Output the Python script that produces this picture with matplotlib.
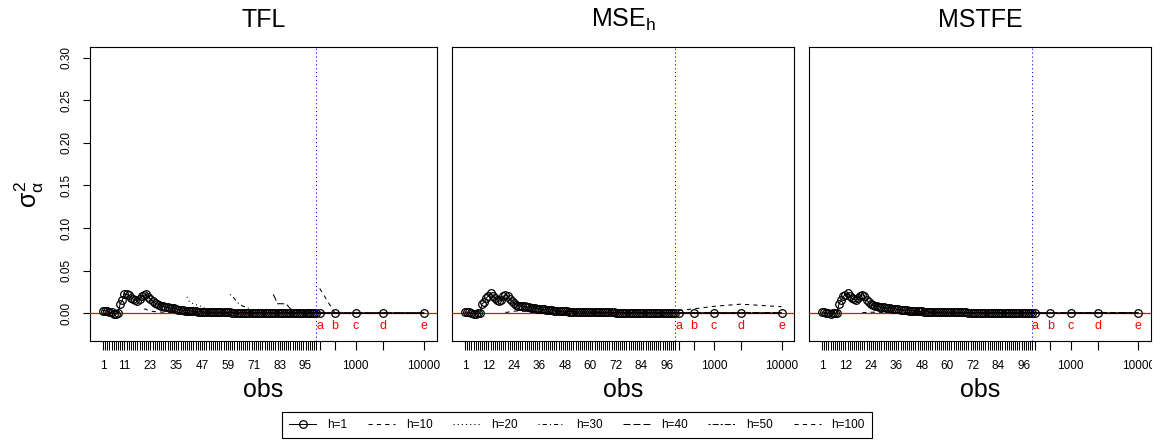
import numpy as np
import matplotlib
matplotlib.use("Agg")
import matplotlib.pyplot as plt
from matplotlib.lines import Line2D
from matplotlib.transforms import Bbox, TransformedBbox

plt.rcParams['font.family'] = ['Liberation Sans', 'DejaVu Sans']
plt.rcParams['mathtext.fontset'] = 'custom'
plt.rcParams['mathtext.rm'] = 'Liberation Sans'
plt.rcParams['mathtext.it'] = 'Liberation Sans'
plt.rcParams['mathtext.bf'] = 'Liberation Sans:bold'
plt.rcParams['lines.scale_dashes'] = False

# ---------------- data ----------------
obs = list(range(1, 101))
ext_obs = [300, 500, 1000, 2500, 10000]
ext_letters = ['a', 'b', 'c', 'd', 'e']
ext_ticklabels = ['', '', '1000', '', '10000']
panel_titles = ['TFL', 'MSE$_h$', 'MSTFE']
tfl_xticks = [1, 11, 23, 35, 47, 59, 71, 83, 95]
other_xticks = [1, 12, 24, 36, 48, 60, 72, 84, 96]
y_ticks = [0.00, 0.05, 0.10, 0.15, 0.20, 0.25, 0.30]
y_ticklabels = ['0.00', '0.05', '0.10', '0.15', '0.20', '0.25', '0.30']
legend_labels = ['h=1', 'h=10', 'h=20', 'h=30', 'h=40', 'h=50', 'h=100']

# TFL panel
tfl_h1 = [0.003, 0.003, 0.0025, 0.001, 0.001, -0.0005, -0.0005, 0.0, 0.011, 0.015,
          0.023, 0.022, 0.021, 0.018, 0.0165, 0.0155, 0.014, 0.017, 0.020, 0.021,
          0.022, 0.019, 0.016, 0.014, 0.012, 0.011, 0.010, 0.0087, 0.008, 0.0075,
          0.007, 0.0063, 0.006, 0.0055, 0.0047, 0.004, 0.0037, 0.0035, 0.003, 0.003,
          0.0027, 0.0025, 0.0022, 0.002, 0.0018, 0.0016, 0.0015, 0.0014, 0.0013, 0.0012,
          0.0011, 0.0011, 0.001, 0.001, 0.0009, 0.0009, 0.0009, 0.0008, 0.0008, 0.0008,
          0.0007, 0.0007, 0.0007, 0.0007, 0.0007, 0.0006, 0.0006, 0.0006, 0.0006, 0.0006,
          0.0006, 0.0006, 0.0005, 0.0005, 0.0005, 0.0005, 0.0005, 0.0005, 0.0005, 0.0005,
          0.0005, 0.0004, 0.0004, 0.0004, 0.0004, 0.0004, 0.0004, 0.0004, 0.0004, 0.0004,
          0.0004, 0.0003, 0.0003, 0.0003, 0.0003, 0.0003, 0.0003, 0.0003, 0.0003, 0.0003]
tfl_h1_ext = [0.0, 0.0, 0.0, 0.0, 0.0]
tfl_h10_obs = [20, 21, 22, 24, 26, 30, 40, 60, 80, 100]
tfl_h10 = [0.0047, 0.0047, 0.003, 0.002, 0.0015, 0.001, 0.0006, 0.0004, 0.0003, 0.0002]
tfl_h10_ext = [0.0, 0.0, 0.0, 0.0, 0.0]
tfl_h20_obs = [40, 41, 42, 44, 46, 48, 50, 55, 60, 80, 100]
tfl_h20 = [0.019, 0.014, 0.012, 0.010, 0.0085, 0.006, 0.004, 0.002, 0.001, 0.0005, 0.0003]
tfl_h20_ext = [0.0, 0.0, 0.0, 0.0, 0.0]
tfl_h30_obs = [60, 61, 62, 64, 66, 67, 70, 75, 80, 100]
tfl_h30 = [0.022, 0.020, 0.017, 0.011, 0.008, 0.0075, 0.004, 0.002, 0.001, 0.0005]
tfl_h30_ext = [0.0, 0.0, 0.0, 0.0, 0.0]
tfl_h40_obs = [80, 81, 82, 84, 86, 87, 88, 90, 95, 100]
tfl_h40 = [0.022, 0.017, 0.011, 0.011, 0.0108, 0.008, 0.005, 0.003, 0.0015, 0.001]
tfl_h40_ext = [0.0, 0.0, 0.0, 0.0, 0.0]
tfl_h50_obs = [100]
tfl_h50 = [0.002]
tfl_h50_ext = [0.001, 0.0, 0.0, 0.0, 0.0]
tfl_h100_ext = [0.029, 0.0, 0.0, 0.0, 0.0]

# MSE_h panel
mse_h1 = [0.001, 0.001, 0.0008, 0.0, -0.0005, -0.0005, 0.0, 0.0, 0.011, 0.0125,
          0.0177, 0.020, 0.024, 0.0197, 0.0177, 0.0157, 0.0137, 0.0157, 0.0197, 0.0216,
          0.020, 0.0165, 0.0137, 0.0118, 0.0098, 0.0087, 0.0082, 0.008, 0.0079, 0.0075,
          0.007, 0.0065, 0.006, 0.0055, 0.0052, 0.005, 0.0047, 0.0044, 0.0042, 0.004,
          0.0036, 0.0033, 0.003, 0.0028, 0.0026, 0.0024, 0.0022, 0.002, 0.0019, 0.0018,
          0.0017, 0.0016, 0.0015, 0.0014, 0.0014, 0.0013, 0.0013, 0.0012, 0.0012, 0.0012,
          0.0011, 0.0011, 0.001, 0.001, 0.001, 0.0009, 0.0009, 0.0009, 0.0008, 0.0008,
          0.0008, 0.0007, 0.0007, 0.0007, 0.0007, 0.0006, 0.0006, 0.0006, 0.0006, 0.0006,
          0.0005, 0.0005, 0.0005, 0.0005, 0.0005, 0.0005, 0.0005, 0.0004, 0.0004, 0.0004,
          0.0004, 0.0004, 0.0004, 0.0004, 0.0004, 0.0003, 0.0003, 0.0003, 0.0003, 0.0003]
mse_h1_ext = [0.0, 0.0, 0.0, 0.0, 0.0]
mse_h10_obs = [20, 21, 22, 23, 25, 30, 40, 60, 80, 100]
mse_h10 = [0.0008, 0.001, 0.0015, 0.002, 0.0025, 0.002, 0.001, 0.0005, 0.0003, 0.0002]
mse_h10_ext = [0.0001, 0.0001, 0.0001, 0.0001, 0.0001]
mse_h20_obs = [40, 45, 50, 60, 80, 100]
mse_h20 = [0.002, 0.0015, 0.001, 0.0006, 0.0004, 0.0003]
mse_h20_ext = [0.0002, 0.0002, 0.0002, 0.0002, 0.0002]
mse_h30_obs = [60, 65, 70, 80, 100]
mse_h30 = [0.0015, 0.001, 0.0008, 0.0005, 0.0003]
mse_h30_ext = [0.0002, 0.0002, 0.0002, 0.0002, 0.0002]
mse_h40_obs = [80, 85, 90, 100]
mse_h40 = [0.0012, 0.0008, 0.0005, 0.0003]
mse_h40_ext = [0.0002, 0.0002, 0.0002, 0.0002, 0.0002]
mse_h50_obs = [100]
mse_h50 = [0.0005]
mse_h50_ext = [0.0003, 0.0002, 0.0002, 0.0002, 0.0002]
mse_h100_ext = [0.003, 0.005, 0.008, 0.0105, 0.0075]

# MSTFE panel
mstfe_h1 = [0.001, 0.001, 0.0, 0.0, -0.0005, 0.0, 0.0, 0.0, 0.011, 0.015,
            0.0197, 0.0216, 0.024, 0.0197, 0.0177, 0.0165, 0.015, 0.0177, 0.020, 0.0216,
            0.0197, 0.0157, 0.0126, 0.011, 0.0095, 0.0085, 0.0079, 0.0075, 0.007, 0.0068,
            0.0063, 0.006, 0.0056, 0.0053, 0.005, 0.0047, 0.0044, 0.0041, 0.0038, 0.0035,
            0.0032, 0.003, 0.0028, 0.0026, 0.0024, 0.0022, 0.002, 0.0019, 0.0018, 0.0017,
            0.0016, 0.0015, 0.0014, 0.0014, 0.0013, 0.0013, 0.0012, 0.0012, 0.0011, 0.0011,
            0.001, 0.001, 0.001, 0.0009, 0.0009, 0.0009, 0.0008, 0.0008, 0.0008, 0.0007,
            0.0007, 0.0007, 0.0007, 0.0006, 0.0006, 0.0006, 0.0006, 0.0006, 0.0005, 0.0005,
            0.0005, 0.0005, 0.0005, 0.0005, 0.0005, 0.0004, 0.0004, 0.0004, 0.0004, 0.0004,
            0.0004, 0.0004, 0.0004, 0.0003, 0.0003, 0.0003, 0.0003, 0.0003, 0.0003, 0.0003]
mstfe_h1_ext = [0.0, 0.0, 0.0, 0.0, 0.0]
mstfe_h10_obs = [20, 22, 24, 26, 30, 40, 60, 80, 100]
mstfe_h10 = [0.0005, 0.0008, 0.001, 0.001, 0.0008, 0.0005, 0.0003, 0.0002, 0.0002]
mstfe_h10_ext = [0.0001, 0.0001, 0.0001, 0.0001, 0.0001]
mstfe_h20_obs = [40, 50, 60, 80, 100]
mstfe_h20 = [0.0012, 0.0008, 0.0005, 0.0003, 0.0002]
mstfe_h20_ext = [0.0001, 0.0001, 0.0001, 0.0001, 0.0001]
mstfe_h30_obs = [60, 70, 80, 100]
mstfe_h30 = [0.001, 0.0006, 0.0004, 0.0002]
mstfe_h30_ext = [0.0001, 0.0001, 0.0001, 0.0001, 0.0001]
mstfe_h40_obs = [80, 90, 100]
mstfe_h40 = [0.0008, 0.0005, 0.0003]
mstfe_h40_ext = [0.0001, 0.0001, 0.0001, 0.0001, 0.0001]
mstfe_h50_obs = [100]
mstfe_h50 = [0.0004]
mstfe_h50_ext = [0.0002, 0.0001, 0.0001, 0.0001, 0.0001]
mstfe_h100_ext = [0.0, 0.0002, 0.0004, 0.0008, 0.0005]

# ---------------- scale (index-like up to 100, log beyond) ----------------
LOG_OFF, LOG_K = 118.2, 31.8
P300 = LOG_OFF + LOG_K * (np.log10(300.0) - 3)


def fwd(x):
    x = np.asarray(x, dtype=float)
    lg = LOG_OFF + LOG_K * (np.log10(np.maximum(x, 300.0)) - 3)
    mid = 100 + (x - 100) * (P300 - 100) / 200.0
    return np.where(x <= 100, x, np.where(x < 300, mid, lg))


def inv(p):
    p = np.asarray(p, dtype=float)
    lg = 10 ** ((np.maximum(p, P300) - LOG_OFF) / LOG_K + 3)
    mid = 100 + (p - 100) * 200.0 / (P300 - 100)
    return np.where(p <= 100, p, np.where(p < P300, mid, lg))


# ---------------- styles ----------------
styles = [
    dict(ls='-', marker='o'),
    dict(ls=(0, (3.0, 3.0))),
    dict(ls=(0, (0.8, 2.2))),
    dict(ls=(0, (0.8, 2.2, 3.0, 2.2))),
    dict(ls=(0, (5.0, 2.2))),
    dict(ls=(0, (1.5, 1.5, 4.3, 1.5))),
    dict(ls=(0, (3.0, 3.0))),
]

panels = [
    dict(h1=tfl_h1, h1e=tfl_h1_ext,
         others=[(tfl_h10_obs, tfl_h10, tfl_h10_ext), (tfl_h20_obs, tfl_h20, tfl_h20_ext),
                 (tfl_h30_obs, tfl_h30, tfl_h30_ext), (tfl_h40_obs, tfl_h40, tfl_h40_ext),
                 (tfl_h50_obs, tfl_h50, tfl_h50_ext), ([], [], tfl_h100_ext)],
         xticks=tfl_xticks),
    dict(h1=mse_h1, h1e=mse_h1_ext,
         others=[(mse_h10_obs, mse_h10, mse_h10_ext), (mse_h20_obs, mse_h20, mse_h20_ext),
                 (mse_h30_obs, mse_h30, mse_h30_ext), (mse_h40_obs, mse_h40, mse_h40_ext),
                 (mse_h50_obs, mse_h50, mse_h50_ext), ([], [], mse_h100_ext)],
         xticks=other_xticks),
    dict(h1=mstfe_h1, h1e=mstfe_h1_ext,
         others=[(mstfe_h10_obs, mstfe_h10, mstfe_h10_ext), (mstfe_h20_obs, mstfe_h20, mstfe_h20_ext),
                 (mstfe_h30_obs, mstfe_h30, mstfe_h30_ext), (mstfe_h40_obs, mstfe_h40, mstfe_h40_ext),
                 (mstfe_h50_obs, mstfe_h50, mstfe_h50_ext), ([], [], mstfe_h100_ext)],
         xticks=other_xticks),
]

W, H = 1167, 443
fig = plt.figure(figsize=(W / 100, H / 100), dpi=100)
boxes_px = [(90, 437), (452.3, 794.3), (809.3, 1151)]
top_px, bot_px = 47, 341

LW = 0.75
MS, MEW = 5.5, 0.9
axes = []
for i, (pan, (x0, x1)) in enumerate(zip(panels, boxes_px)):
    ax = fig.add_axes([x0 / W, (H - bot_px) / H, (x1 - x0) / W, (bot_px - top_px) / H])
    axes.append(ax)
    ax.set_xscale('function', functions=(fwd, inv))

    # h=1
    ax.plot(obs + ext_obs, pan['h1'] + pan['h1e'], color='black', lw=LW, ls='-',
            marker='o', ms=MS, mfc='none', mec='black', mew=MEW, zorder=5)
    for st, (ob, vals, ev) in zip(styles[1:], pan['others']):
        ax.plot(list(ob) + ext_obs, list(vals) + ev, color='black', lw=LW, ls=st['ls'], zorder=4)

    ax.axhline(0, color='red', lw=0.9, zorder=3)
    ax.axvline(100, color='blue', lw=0.75, ls=(0, (0.8, 2.0)), zorder=6)
    for xo, let in zip(ext_obs, ext_letters):
        ax.annotate(let, (xo, 0), xytext=(0, -9.2), textcoords='offset points',
                    ha='center', va='center', color='red', fontsize=9)

    ax.set_xlim(float(inv(-5.0)), float(inv(156.0)))
    ax.set_ylim(-0.0328, 0.3128)

    ax.set_xticks(obs, minor=True)
    ax.set_xticks(pan['xticks'] + ext_obs)
    ax.set_xticklabels([str(t) for t in pan['xticks']] + ext_ticklabels)
    ax.tick_params(axis='x', which='both', length=6.5, width=0.75, color='black',
                   labelsize=8.5, pad=7.5, direction='out')
    ax.tick_params(axis='x', which='major', width=0.8)

    if i == 0:
        ax.set_yticks(y_ticks)
        ax.set_yticklabels(y_ticklabels)
        ax.tick_params(axis='y', length=5.2, width=0.8, labelsize=8.5, pad=7.5,
                       labelrotation=90)
        for lbl in ax.get_yticklabels():
            lbl.set_va('center')
        ax.set_ylabel(r'$\sigma_{\alpha}^{2}$', fontsize=18)
        ax.yaxis.set_label_coords(-0.175, 0.5)
        ax.yaxis.label.set_va('center')
    else:
        ax.set_yticks([])

    for sp in ax.spines.values():
        sp.set_linewidth(0.8)
        sp.set_color('black')

    ax.set_title(panel_titles[i], fontsize=18, pad=14.5)
    ax.set_xlabel('obs', fontsize=18)
    ax.xaxis.set_label_coords(0.5, -0.1667)
    ax.xaxis.label.set_va('center')

# clip the last tick label of the right panel at its box edge (as in the reference)
clip_bb = TransformedBbox(Bbox([[0, 0], [1152.0 / W, 1]]), fig.transFigure)
for lbl in axes[2].get_xticklabels():
    lbl.set_clip_on(True)
    lbl.set_clip_box(clip_bb)

handles = [Line2D([], [], color='black', lw=LW, ls='-', marker='o', ms=MS, mfc='none', mew=MEW)]
for st in styles[1:]:
    handles.append(Line2D([], [], color='black', lw=LW, ls=st['ls']))
leg = fig.legend(handles, legend_labels, ncol=7, loc='center',
                 bbox_to_anchor=(577 / W, (H - 425) / H), fontsize=8.5, frameon=True,
                 fancybox=False, edgecolor='black', framealpha=1, handlelength=2.3,
                 handletextpad=0.9, columnspacing=1.75, borderpad=0.6, numpoints=1)
leg.get_frame().set_linewidth(0.8)

fig.savefig('out.png', dpi=100)
